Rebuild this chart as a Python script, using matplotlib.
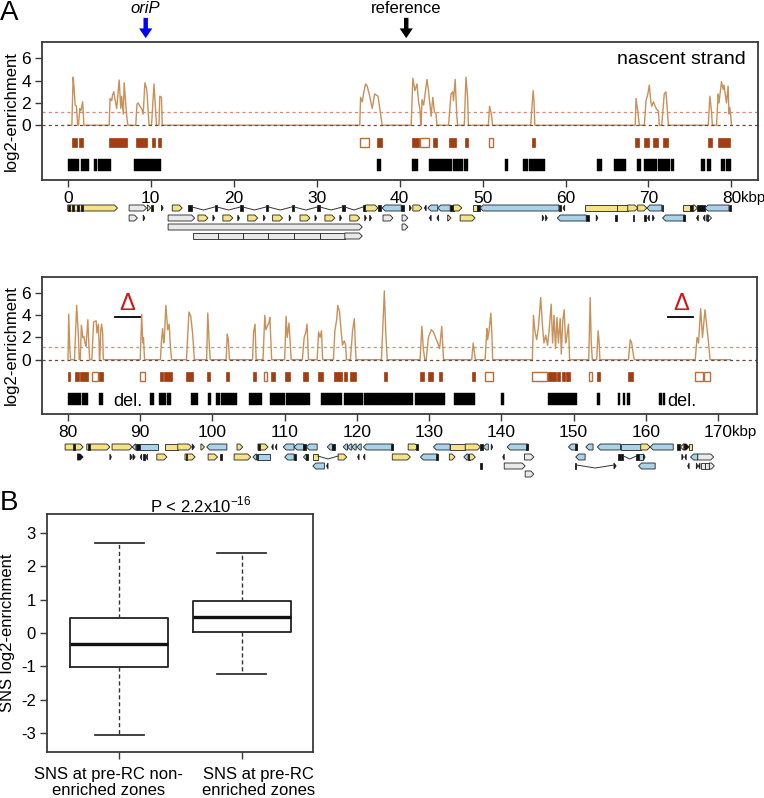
import matplotlib
matplotlib.use("Agg")
import matplotlib.pyplot as plt
from matplotlib.patches import Polygon, Rectangle
import numpy as np

plt.rcParams['font.family'] = ['Liberation Sans', 'DejaVu Sans']
plt.rcParams['axes.unicode_minus'] = False

# ---------------- data ----------------
# nascent strand log2-enrichment, peaks as (kbp, value); each peak starts/ends at 0
top_peaks = [
    [(0.5, 0), (0.65, 4.3), (0.75, 3.5), (0.9, 1.8), (1.05, 1.7), (1.2, 0)],
    [(1.3, 0), (1.45, 1.5), (1.6, 1.3), (1.8, 2.1), (1.95, 0)],
    [(5.0, 0), (5.1, 2.4), (5.3, 2.2), (5.4, 2.7), (5.55, 3.0), (5.7, 2.3), (5.9, 1.5), (6.2, 4.05),
     (6.4, 1.5), (6.5, 2.6), (6.7, 1.0), (6.8, 3.8), (6.9, 2.8), (7.1, 0.9), (7.25, 0)],
    [(8.2, 0), (8.35, 1.9), (8.5, 2.0), (8.7, 1.7), (8.9, 1.5), (9.1, 1.0), (9.3, 3.8), (9.5, 3.3),
     (9.6, 2.5), (9.8, 0)],
    [(10.1, 0), (10.4, 3.7), (10.7, 0)],
    [(11.0, 0), (11.1, 2.6), (11.3, 2.5), (11.4, 0)],
    [(35.2, 0), (35.3, 2.5), (35.5, 2.1), (35.7, 3.0), (35.9, 3.7), (36.1, 3.5), (36.4, 2.6),
     (36.7, 1.5), (37.0, 2.8), (37.4, 2.6), (37.7, 1.0), (37.9, 0)],
    [(41.4, 0), (41.6, 4.2), (41.85, 3.1), (42.1, 3.7), (42.3, 2.0), (42.45, 1.5), (42.55, 0)],
    [(42.6, 0), (42.7, 2.3), (42.9, 1.8), (43.3, 4.1), (43.5, 3.0), (43.7, 1.5), (43.8, 0.8),
     (44.0, 2.5), (44.2, 1.2), (44.4, 1.0), (44.5, 0)],
    [(45.9, 0), (46.2, 2.8), (46.4, 3.0), (46.5, 2.2), (46.7, 4.1), (46.9, 0.8), (47.0, 0)],
    [(47.8, 0), (48.0, 4.3), (48.2, 2.5), (48.3, 0)],
    [(50.7, 0), (50.85, 1.7), (51.0, 1.2), (51.1, 0.8), (51.2, 0)],
    [(55.8, 0), (56.1, 3.1), (56.2, 2.2), (56.3, 0)],
    [(68.4, 0), (68.5, 2.4), (68.7, 1.3), (68.9, 0)],
    [(69.5, 0), (69.7, 2.2), (69.9, 2.7), (70.1, 3.6), (70.3, 2.0), (70.4, 1.7), (70.6, 2.1),
     (70.8, 1.7), (71.0, 1.4), (71.2, 1.3), (71.3, 0)],
    [(71.6, 0), (71.9, 2.8), (72.1, 3.0), (72.2, 2.1), (72.4, 0)],
    [(77.2, 0), (77.4, 2.6), (77.6, 1.2), (77.7, 0)],
    [(78.2, 0), (78.4, 2.8), (78.5, 2.0), (78.8, 3.9), (79.0, 3.2), (79.1, 3.6), (79.4, 2.0),
     (79.6, 3.5), (79.7, 1.0), (79.8, 1.6), (79.9, 1.0), (80.0, 0)],
]
bot_peaks = [
    [(80.0, 0), (80.05, 2.0), (80.1, 4.1), (80.25, 1.0), (80.35, 0)],
    [(80.9, 0), (81.2, 4.9), (81.45, 2.0), (81.55, 0)],
    [(81.7, 0), (81.85, 3.1), (82.05, 2.0), (82.2, 2.1), (82.35, 1.5), (82.5, 1.2), (82.75, 3.6),
     (82.9, 1.2), (83.0, 0)],
    [(83.3, 0), (83.55, 3.4), (83.9, 3.5), (84.0, 2.4), (84.2, 3.2), (84.3, 1.5), (84.35, 0)],
    [(84.4, 0), (84.55, 2.7), (84.65, 3.2), (84.8, 2.4), (84.9, 0)],
    [(90.0, 0), (90.2, 4.1), (90.35, 1.5), (90.45, 2.0), (90.6, 0)],
    [(92.8, 0), (92.95, 1.8), (93.1, 2.8), (93.25, 1.5), (93.35, 2.0), (93.55, 4.9), (93.8, 2.7),
     (94.0, 3.2), (94.2, 1.0), (94.35, 0)],
    [(96.4, 0), (96.75, 4.3), (97.0, 3.9), (97.25, 2.4), (97.5, 0)],
    [(99.2, 0), (99.35, 4.2), (99.55, 1.5), (99.7, 0)],
    [(101.9, 0), (102.05, 2.3), (102.2, 1.8), (102.35, 0)],
    [(105.55, 0), (105.7, 2.5), (105.9, 3.2), (106.05, 0)],
    [(107.0, 0), (107.25, 4.0), (107.4, 2.7), (107.8, 3.3), (107.95, 3.8), (108.1, 1.5), (108.2, 0)],
    [(110.0, 0), (110.2, 3.9), (110.35, 2.0), (110.6, 3.3), (110.8, 1.2), (110.9, 0)],
    [(112.45, 0), (112.7, 2.0), (112.9, 2.4), (113.1, 3.2), (113.3, 0)],
    [(114.5, 0), (114.7, 2.5), (114.9, 2.0), (115.1, 2.6), (115.25, 0)],
    [(116.75, 0), (116.95, 2.6), (117.2, 3.6), (117.35, 4.9), (117.6, 4.3), (117.8, 2.7),
     (118.0, 1.3), (118.25, 1.7), (118.45, 1.3), (118.55, 0)],
    [(119.1, 0), (119.4, 2.6), (119.65, 3.7), (119.8, 1.0), (119.9, 0)],
    [(123.4, 0), (123.8, 6.2), (124.0, 2.4), (124.2, 0)],
    [(128.75, 0), (129.0, 3.0), (129.2, 1.0), (129.4, 0)],
    [(129.6, 0), (129.9, 2.0), (130.3, 2.7), (130.6, 2.5), (131.2, 1.5), (131.45, 1.0),
     (131.75, 3.0), (132.0, 0)],
    [(135.9, 0), (136.1, 1.5), (136.4, 0)],
    [(137.75, 0), (138.0, 2.8), (138.1, 1.8), (138.3, 2.6), (138.55, 4.2), (138.7, 2.2), (138.8, 0)],
    [(144.3, 0), (144.45, 4.0), (144.65, 2.6), (144.9, 1.8), (145.15, 3.0), (145.45, 5.6),
     (145.7, 3.0), (145.9, 1.5), (146.15, 2.2), (146.4, 1.3), (146.6, 2.5), (146.9, 5.0),
     (147.1, 1.5), (147.3, 4.0), (147.5, 1.0), (147.7, 3.8), (147.9, 1.5), (148.15, 3.7),
     (148.3, 0.5), (148.5, 3.5), (148.7, 4.5), (148.9, 1.5), (149.05, 2.0), (149.3, 3.2), (149.45, 0)],
    [(152.1, 0), (152.3, 5.6), (152.45, 1.5), (152.6, 0)],
    [(153.2, 0), (153.4, 2.6), (153.55, 1.5), (153.65, 0)],
    [(157.6, 0), (157.85, 1.8), (158.05, 1.5), (158.2, 0.8), (158.4, 0)],
    [(166.85, 0), (167.1, 2.0), (167.3, 1.5), (167.6, 4.6), (167.85, 2.0), (168.2, 4.5),
     (168.45, 3.0), (168.65, 1.8), (168.9, 0)],
]
top_span = (0, 80)
bot_span = (80, 171.7)
threshold = 1.15

# enriched zones (start, end, filled)
top_zones = [(0.5, 1.1, 1), (1.4, 1.9, 1), (5.0, 7.2, 1), (8.2, 9.6, 1), (10.1, 10.5, 1),
             (10.9, 11.3, 1), (35.2, 36.3, 0), (37.3, 37.9, 1), (41.45, 42.4, 1), (42.45, 43.6, 0),
             (44.0, 44.5, 1), (46.0, 46.8, 1), (47.9, 48.2, 1), (50.8, 51.2, 0), (55.9, 56.3, 1),
             (68.4, 68.8, 1), (69.5, 70.1, 1), (70.5, 71.1, 1), (71.7, 72.4, 1), (77.2, 77.7, 1),
             (78.4, 79.8, 1)]
bot_zones = [(80.0, 80.3, 1), (80.9, 81.55, 1), (81.7, 82.8, 1), (83.3, 84.1, 0), (84.3, 84.9, 1),
             (90.0, 90.6, 0), (92.75, 93.1, 1), (93.3, 94.35, 1), (96.4, 97.25, 1), (99.2, 99.65, 1),
             (101.9, 102.3, 1), (105.55, 106.0, 1), (107.1, 107.5, 0), (108.1, 108.6, 1),
             (110.1, 110.75, 1), (112.6, 113.25, 1), (114.65, 115.25, 1), (116.8, 118.0, 1),
             (118.2, 118.65, 1), (119.1, 119.85, 1), (123.7, 124.1, 1), (128.75, 129.3, 1),
             (129.9, 130.6, 1), (131.3, 131.75, 1), (135.95, 136.4, 1), (137.75, 138.9, 0),
             (144.3, 146.3, 0), (146.5, 147.5, 1), (147.7, 148.15, 1), (148.4, 148.85, 1),
             (148.9, 149.5, 1), (152.1, 152.55, 0), (153.2, 153.7, 1), (157.6, 158.2, 1),
             (166.85, 167.9, 0), (168.0, 168.9, 0)]

# pre-RC zones (black)
top_prerc = [(0.0, 1.3), (1.65, 2.6), (3.2, 3.5), (3.7, 5.25), (8.0, 11.3), (37.3, 37.8),
             (41.45, 42.25), (43.6, 46.3), (46.4, 47.7), (47.8, 48.3), (52.7, 53.1), (54.9, 55.5),
             (55.6, 57.5), (63.8, 64.4), (65.9, 67.3), (68.6, 69.1), (69.5, 71.0), (71.1, 72.6),
             (72.7, 73.1), (76.3, 76.8), (77.1, 77.5), (78.7, 79.2), (79.3, 79.9)]
bot_prerc = [(80.0, 81.8), (81.9, 82.7), (84.35, 84.8), (91.4, 91.85), (92.6, 93.55), (93.65, 94.3),
             (97.0, 98.0), (99.35, 99.8), (100.45, 101.1), (101.15, 103.35), (105.1, 106.9),
             (108.0, 110.0), (110.2, 111.1), (111.15, 113.55), (115.0, 118.0), (118.2, 120.9),
             (120.95, 123.0), (123.1, 125.5), (125.6, 127.8), (128.1, 132.2), (133.5, 136.4),
             (139.9, 140.4), (146.5, 150.45), (153.2, 153.7), (156.1, 156.45), (156.8, 157.15),
             (157.4, 157.85), (161.85, 162.2), (162.4, 162.7)]

# gene annotation: (start, end, row, colour, strand)
top_genes = [
    (0.0, 6.0, 0, 'y', 1), (0.0, 0.25, 0, 'k', 0), (0.55, 0.8, 0, 'k', 0), (1.1, 1.35, 0, 'k', 0),
    (1.65, 1.9, 0, 'k', 0), (7.4, 9.5, 0, 'g', 1), (9.6, 10.0, 0, 'y', 1), (10.0, 10.3, 0, 'k', 0),
    (11.3, 11.5, 0, 'k', 1), (12.6, 13.8, 0, 'y', 1), (14.5, 15.0, 0, 'k', 0),
    (17.7, 18.0, 0, 'k', 0), (20.8, 21.1, 0, 'k', 0), (23.9, 24.2, 0, 'k', 0), (27.0, 27.3, 0, 'k', 0),
    (30.1, 30.4, 0, 'k', 0), (33.1, 33.4, 0, 'k', 0), (35.6, 35.9, 0, 'k', 0), (35.9, 37.4, 0, 'y', 1),
    (37.4, 37.7, 0, 'k', 0), (37.9, 40.2, 0, 'b', -1), (40.2, 40.5, 0, 'k', 0), (41.2, 41.4, 0, 'k', 1),
    (41.6, 42.7, 0, 'y', 1), (43.0, 43.2, 0, 'k', -1), (43.4, 44.6, 0, 'b', -1), (44.6, 46.1, 0, 'b', -1),
    (46.1, 46.5, 0, 'k', 0), (46.5, 47.5, 0, 'y', 1), (48.9, 49.3, 0, 'y', 0), (49.3, 49.7, 0, 'k', 0),
    (49.7, 59.2, 0, 'b', -1), (59.2, 59.4, 0, 'k', 0), (59.7, 59.9, 0, 'k', -1), (62.4, 66.2, 0, 'y', 0),
    (66.2, 67.5, 0, 'y', 0), (67.5, 68.7, 0, 'y', 1), (68.7, 69.8, 0, 'y', 1), (69.8, 71.6, 0, 'b', -1),
    (71.6, 71.8, 0, 'k', 0), (74.1, 75.0, 0, 'y', 0), (75.0, 75.4, 0, 'k', 0), (75.4, 75.9, 0, 'y', 1),
    (75.9, 76.8, 0, 'k', 0), (76.8, 79.7, 0, 'b', -1), (79.7, 79.9, 0, 'k', 0),
    (7.4, 8.4, 1, 'g', 1), (9.1, 9.3, 1, 'k', 1), (12.1, 15.3, 1, 'g', 1),
    (15.7, 16.9, 1, 'y', 1), (18.7, 19.9, 1, 'y', 1), (21.7, 22.9, 1, 'y', 1), (24.7, 25.9, 1, 'y', 1),
    (28.0, 29.2, 1, 'y', 1), (31.0, 32.2, 1, 'y', 1), (34.0, 35.2, 1, 'y', 1),
    (17.5, 17.7, 1, 'k', 1), (20.5, 20.7, 1, 'k', 1), (23.6, 23.8, 1, 'k', 1), (26.7, 26.9, 1, 'k', 1),
    (29.8, 30.0, 1, 'k', 1), (32.8, 33.0, 1, 'k', 1), (35.8, 36.0, 1, 'k', 1), (36.4, 36.6, 1, 'k', 1),
    (38.0, 39.2, 1, 'g', 1), (40.3, 41.0, 1, 'g', 1), (43.6, 43.8, 1, 'k', -1), (44.5, 44.7, 1, 'k', -1),
    (45.8, 46.2, 1, 'y', 1), (47.3, 49.1, 1, 'y', 1), (57.2, 57.4, 1, 'k', 1), (57.6, 57.8, 1, 'k', 1),
    (59.0, 62.5, 1, 'b', -1), (62.5, 62.8, 1, 'k', 0), (63.7, 63.9, 1, 'k', 1), (66.0, 66.2, 1, 'k', 0),
    (68.1, 68.3, 1, 'k', 0), (69.5, 69.7, 1, 'k', 0), (69.9, 70.1, 1, 'k', -1), (70.5, 70.7, 1, 'k', 1),
    (71.7, 74.4, 1, 'b', -1), (74.2, 74.4, 1, 'k', 0), (75.8, 76.0, 1, 'k', -1), (76.6, 76.8, 1, 'k', -1),
    (77.0, 77.6, 1, 'g', 1), (77.0, 77.2, 1, 'k', 0),
    (12.1, 35.5, 2, 'g', 1), (40.3, 41.0, 2, 'g', 1),
    (15.1, 18.1, 3, 'g', 0), (18.1, 21.1, 3, 'g', 0), (21.1, 24.2, 3, 'g', 0), (24.2, 27.3, 3, 'g', 0),
    (27.3, 30.4, 3, 'g', 0), (30.4, 33.4, 3, 'g', 0), (33.4, 35.5, 3, 'g', 1),
]
top_introns = [(15.0, 17.7, 0), (18.0, 20.8, 0), (21.1, 23.9, 0), (24.2, 27.0, 0), (27.3, 30.1, 0),
               (30.4, 33.1, 0), (33.4, 35.6, 0)]
bot_genes = [
    (79.6, 82.1, 0, 'y', 1), (80.7, 81.0, 0, 'k', 0), (82.6, 85.8, 0, 'y', 1), (82.8, 83.0, 0, 'k', 0),
    (86.1, 88.9, 0, 'y', 1), (88.9, 89.4, 0, 'b', -1), (89.4, 89.9, 0, 'k', 0), (89.9, 92.5, 0, 'b', 0),
    (93.4, 95.2, 0, 'y', 0), (95.2, 97.1, 0, 'y', 1), (97.2, 97.5, 0, 'k', 1), (98.4, 98.9, 0, 'y', 1),
    (99.2, 102.0, 0, 'b', -1), (103.4, 104.2, 0, 'y', 1), (106.3, 107.7, 0, 'y', 1),
    (106.3, 106.6, 0, 'k', 0), (108.2, 108.4, 0, 'k', -1), (108.7, 108.9, 0, 'k', -1),
    (109.8, 111.3, 0, 'b', -1), (111.3, 112.6, 0, 'b', -1), (112.6, 112.9, 0, 'k', 0),
    (113.0, 114.5, 0, 'b', -1), (115.9, 116.6, 0, 'b', -1), (116.6, 116.9, 0, 'k', 0),
    (118.1, 118.7, 0, 'b', -1), (118.7, 119.3, 0, 'b', -1), (119.3, 119.9, 0, 'b', -1),
    (120.0, 120.6, 0, 'b', -1), (120.9, 125.0, 0, 'b', -1), (124.7, 125.0, 0, 'k', 0),
    (127.1, 128.5, 0, 'y', 1), (128.2, 128.5, 0, 'k', 0), (130.6, 132.9, 0, 'b', -1),
    (132.9, 135.0, 0, 'y', 0), (135.0, 137.1, 0, 'y', 1), (137.1, 137.5, 0, 'k', 0),
    (137.5, 138.2, 0, 'b', -1), (138.6, 138.8, 0, 'k', 1), (140.8, 143.7, 0, 'b', -1),
    (143.4, 143.7, 0, 'k', 0), (149.3, 150.5, 0, 'b', -1), (150.2, 150.5, 0, 'k', 0),
    (151.7, 152.7, 0, 'b', -1), (153.3, 156.5, 0, 'b', -1), (156.5, 159.3, 0, 'b', 0),
    (159.3, 160.6, 0, 'y', 1), (160.6, 163.8, 0, 'b', -1), (164.3, 164.8, 0, 'k', 0),
    (164.8, 165.3, 0, 'y', -1), (165.3, 166.0, 0, 'k', 1), (166.0, 166.4, 0, 'y', 0),
    (81.3, 82.1, 1, 'k', 1), (85.8, 86.0, 1, 'k', 1), (88.6, 88.9, 1, 'k', 1), (89.0, 89.3, 1, 'k', 1),
    (90.0, 90.2, 1, 'k', -1), (90.4, 90.6, 1, 'k', 0), (90.8, 91.0, 1, 'k', -1), (92.3, 93.7, 1, 'y', 1),
    (96.2, 97.6, 1, 'y', 1), (96.3, 96.5, 1, 'k', 0), (99.4, 100.7, 1, 'y', 1), (101.1, 101.3, 1, 'k', 0),
    (103.0, 105.3, 1, 'y', 1), (105.6, 106.1, 1, 'b', -1), (106.1, 106.3, 1, 'k', 0),
    (106.3, 108.0, 1, 'b', 0), (110.0, 111.3, 1, 'b', -1), (111.3, 111.5, 1, 'k', 0),
    (112.6, 113.0, 1, 'b', -1), (113.0, 113.2, 1, 'k', 0), (113.9, 114.6, 1, 'y', 0),
    (117.4, 118.6, 1, 'y', 1), (120.1, 120.3, 1, 'k', -1), (120.9, 121.1, 1, 'k', -1),
    (124.9, 127.4, 1, 'y', 1), (128.8, 131.2, 1, 'b', -1), (130.9, 131.2, 1, 'k', 0),
    (132.8, 133.6, 1, 'y', 1), (134.8, 135.4, 1, 'b', -1), (135.4, 135.6, 1, 'k', 0),
    (135.6, 136.4, 1, 'y', 1), (140.2, 140.4, 1, 'k', -1), (143.2, 144.5, 1, 'g', 1),
    (150.3, 151.6, 1, 'b', -1), (156.2, 156.5, 1, 'k', 0), (156.6, 156.9, 1, 'k', 0),
    (158.7, 159.0, 1, 'k', 0), (159.1, 159.6, 1, 'b', 0), (159.7, 159.9, 1, 'k', 1),
    (165.0, 165.2, 1, 'k', 1), (165.4, 165.6, 1, 'k', -1), (166.2, 167.2, 1, 'b', -1),
    (167.2, 169.4, 1, 'g', 1),
    (113.9, 115.5, 2, 'b', -1), (115.8, 116.0, 2, 'k', -1), (137.1, 137.3, 2, 'k', 0),
    (140.4, 143.3, 2, 'g', 1), (150.2, 150.4, 2, 'k', 0), (155.6, 155.9, 2, 'k', 1),
    (159.0, 161.3, 2, 'b', -1), (165.8, 166.0, 2, 'k', -1), (167.0, 167.2, 2, 'k', 1),
    (167.3, 167.5, 2, 'k', -1), (167.6, 168.2, 2, 'g', 0), (168.2, 168.8, 2, 'g', 0),
    (168.8, 169.5, 2, 'g', 1),
    (143.3, 144.5, 3, 'g', 1),
]
bot_introns = [(114.6, 117.4, 1), (156.9, 158.7, 1), (150.4, 155.6, 2)]

# deletions (start, end), marked with a red delta
deletions = [(86.5, 90.0), (163.1, 166.6)]

# panel B boxplot summary
box_labels = ["SNS at pre-RC non-\nenriched zones", "SNS at pre-RC\nenriched zones"]
box_q1 = [-1.03, 0.02]
box_med = [-0.33, 0.47]
box_q3 = [0.45, 0.96]
box_lo = [-3.05, -1.23]
box_hi = [2.68, 2.38]

# ---------------- styling ----------------
W, H = 764, 798
fig = plt.figure(figsize=(W / 100, H / 100), dpi=100)


def px_axes(x0, y0, x1, y1, **kw):
    return fig.add_axes([x0 / W, 1 - y1 / H, (x1 - x0) / W, (y1 - y0) / H], **kw)


trace_col = '#c8915a'
zone_col = '#a33d12'
frame_col = '#3a3a3a'
gene_cols = {'y': '#f6e384', 'b': '#a8d3ea', 'g': '#e9e9e9', 'k': '#111111'}


def draw_signal(ax, peaks, span, zones, prerc, xlim, xticks, kbp_off):
    xs = [span[0]]
    ys = [0]
    for pk in peaks:
        xs += [p[0] for p in pk]
        ys += [p[1] for p in pk]
    xs.append(span[1])
    ys.append(0)
    ax.axhline(threshold, color='#e0857a', lw=0.9, ls=(0, (2.5, 2.5)))
    ax.plot(xs, ys, color=trace_col, lw=1.0)
    ax.axhline(0, color='#6b4a3e', lw=0.9, ls=(0, (2.5, 2.5)))
    for s, e, f in zones:
        if f:
            ax.add_patch(Rectangle((s, -1.95), e - s, 0.85, fc=zone_col, ec=zone_col, lw=0.5))
        else:
            ax.add_patch(Rectangle((s, -1.95), e - s, 0.85, fc='white', ec='#b3703f', lw=1.0))
    for s, e in prerc:
        ax.add_patch(Rectangle((s, -4.05), e - s, 1.0, fc='black', ec='black', lw=0.3))
    ax.set_xlim(*xlim)
    ax.set_ylim(-4.9, 7.45)
    ax.set_yticks([0, 2, 4, 6])
    ax.set_xticks(xticks)
    ax.set_xticklabels([str(t) for t in xticks])
    ax.tick_params(labelsize=12.5, length=5, width=1, color=frame_col, pad=3)
    ax.set_ylabel('log2-enrichment', fontsize=12, labelpad=2)
    for sp in ax.spines.values():
        sp.set_color(frame_col)
        sp.set_linewidth(1.3)
    ax.annotate('kbp', xy=(xticks[-1], 0), xycoords=('data', 'axes fraction'),
                xytext=(kbp_off, -8.2), textcoords='offset points', ha='left', va='top',
                fontsize=10.8)


def draw_genes(ax, genes, introns, xlim, rows, px_per_unit):
    ax.set_xlim(*xlim)
    ax.set_ylim(42, 0)
    ax.axis('off')
    h = 6.0
    tip = 3.0 / px_per_unit
    for s, e, r in introns:
        y = rows[r]
        m = (s + e) / 2
        ax.plot([s, m, e], [y - 1, y + 2, y - 1], color='#333333', lw=0.7)
    for s, e, r, c, st in genes:
        y = rows[r]
        t = min(tip, e - s)
        if st == 1:
            pts = [(s, y - h / 2), (e - t, y - h / 2), (e, y), (e - t, y + h / 2), (s, y + h / 2)]
        elif st == -1:
            pts = [(e, y - h / 2), (s + t, y - h / 2), (s, y), (s + t, y + h / 2), (e, y + h / 2)]
        else:
            pts = [(s, y - h / 2), (e, y - h / 2), (e, y + h / 2), (s, y + h / 2)]
        ax.add_patch(Polygon(pts, closed=True, fc=gene_cols[c], ec='#222222', lw=0.6))


# panel A top
top_xlim = (-3.1, 83.2)
axA = px_axes(42, 42, 758, 180)
draw_signal(axA, top_peaks, top_span, top_zones, top_prerc, top_xlim, list(range(0, 81, 10)), 6.8)
axA.text(81.7, 5.9, 'nascent strand', ha='right', va='center', fontsize=14)
for xk, lab, col, sty in [(9.4, 'oriP', 'blue', 'italic'), (40.8, 'reference', 'black', 'normal')]:
    axA.annotate('', xy=(xk, 1.028), xytext=(xk, 1.175), xycoords=('data', 'axes fraction'),
                 arrowprops=dict(width=3.2, headwidth=9.5, headlength=7, color=col, lw=0))
    axA.text(xk, 1.245, lab, transform=axA.get_xaxis_transform(), ha='center', va='center',
             fontsize=12, style=sty, color='black')
gA = px_axes(42, 200, 758, 242)
draw_genes(gA, top_genes, top_introns, top_xlim, [8, 18, 27, 36], 716 / (top_xlim[1] - top_xlim[0]))

# panel A bottom
bot_xlim = (76.4, 175.4)
axA2 = px_axes(42, 277, 757, 414)
draw_signal(axA2, bot_peaks, bot_span, bot_zones, bot_prerc, bot_xlim, list(range(80, 171, 10)), 10.2)
for s, e in deletions:
    axA2.plot([s, e], [3.85, 3.85], color='black', lw=1.3)
    axA2.text((s + e) / 2, 4.05, '\u0394', ha='center', va='bottom', fontsize=17, color='#d0161b')
axA2.text(86.2, -3.75, 'del.', ha='left', va='center', fontsize=13)
axA2.text(163.0, -3.75, 'del.', ha='left', va='center', fontsize=13)
gA2 = px_axes(42, 440, 757, 482)
draw_genes(gA2, bot_genes, bot_introns, bot_xlim, [7, 17, 26, 34], 715 / (bot_xlim[1] - bot_xlim[0]))

# panel B
axB = px_axes(47, 514, 313, 752)
stats = []
for i in range(len(box_labels)):
    stats.append(dict(med=box_med[i], q1=box_q1[i], q3=box_q3[i], whislo=box_lo[i],
                      whishi=box_hi[i], fliers=[], label=''))
axB.bxp(stats, positions=[1, 2], widths=0.8, showfliers=False,
        boxprops=dict(color='#222222', lw=1.3),
        medianprops=dict(color='#111111', lw=2.4),
        whiskerprops=dict(color='#333333', lw=1.0, ls=(0, (3, 2))),
        capprops=dict(color='#333333', lw=1.3), capwidths=0.4)
axB.set_xlim(0.41, 2.58)
axB.set_ylim(-3.56, 3.56)
axB.set_yticks([-3, -2, -1, 0, 1, 2, 3])
axB.tick_params(labelsize=12, length=5, width=1, color=frame_col, pad=3)
axB.set_ylabel('SNS log2-enrichment', fontsize=12)
axB.yaxis.set_label_coords(-0.12, 0.5)
for sp in axB.spines.values():
    sp.set_color(frame_col)
    sp.set_linewidth(1.3)
# category labels sit a little off the ticks, as in the original
for lab, xc in zip(box_labels, [108.5, 258.5]):
    fig.text(xc / W, 1 - 782.5 / H, lab, ha='center', va='center', fontsize=12, linespacing=1.15)
fig.text(201 / W, 1 - 505 / H, 'P < 2.2x10$^{\\mathregular{-16}}$', ha='center', va='center',
         fontsize=12)

fig.text(9 / W, 1 - 13 / H, 'A', fontsize=20, ha='center', va='center')
fig.text(9 / W, 1 - 503 / H, 'B', fontsize=20, ha='center', va='center')

fig.savefig('out.png', dpi=100)
